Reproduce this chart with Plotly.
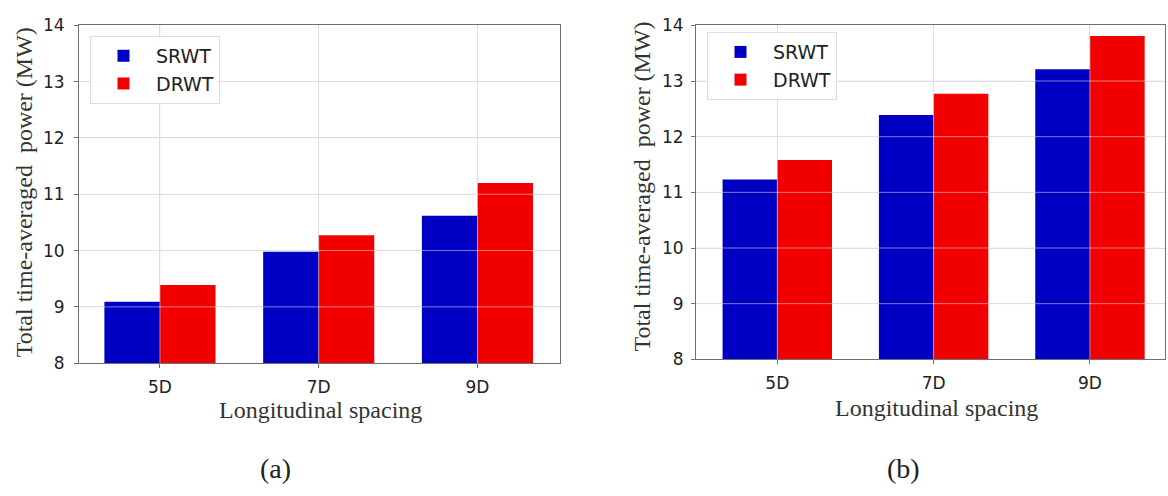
import plotly.graph_objects as go

categories = ["5D", "7D", "9D"]
a_srwt = [9.09, 9.98, 10.62]
a_drwt = [9.39, 10.27, 11.20]
b_srwt = [11.23, 12.39, 13.21]
b_drwt = [11.58, 12.77, 13.81]
y_ticks = [8, 9, 10, 11, 12, 13, 14]

BLUE = "#0000c4"
RED = "#f20000"
W, H = 1168, 496

fig = go.Figure()
fig.add_trace(go.Bar(x=categories, y=a_srwt, name="SRWT", marker_color=BLUE,
                     marker_line_width=0, xaxis="x", yaxis="y", legend="legend"))
fig.add_trace(go.Bar(x=categories, y=a_drwt, name="DRWT", marker_color=RED,
                     marker_line_width=0, xaxis="x", yaxis="y", legend="legend"))
fig.add_trace(go.Bar(x=categories, y=b_srwt, name="SRWT", marker_color=BLUE,
                     marker_line_width=0, xaxis="x2", yaxis="y2", legend="legend2"))
fig.add_trace(go.Bar(x=categories, y=b_drwt, name="DRWT", marker_color=RED,
                     marker_line_width=0, xaxis="x2", yaxis="y2", legend="legend2"))

tick_font = dict(family="DejaVu Sans", size=17, color="#222")
axis_common = dict(showline=True, linecolor="#6e6e6e", linewidth=1, mirror=True,
                   ticks="outside", ticklen=4, tickcolor="#6e6e6e",
                   showgrid=True, gridcolor="#dcdcdc", gridwidth=1,
                   tickfont=tick_font, zeroline=False)

def px_x(p):
    return p / W

def px_y(p):
    return 1 - p / H

legend_common = dict(xanchor="left", yanchor="top",
                     bgcolor="rgba(255,255,255,0.9)", bordercolor="#dddddd", borderwidth=1,
                     font=dict(family="DejaVu Sans", size=19, color="#222"),
                     itemwidth=55, tracegroupgap=0)

fig.update_layout(
    width=W, height=H, autosize=False,
    margin=dict(l=0, r=0, t=0, b=0),
    paper_bgcolor="white", plot_bgcolor="white",
    barmode="group", bargap=0.3, bargroupgap=0,
    xaxis=dict(domain=[px_x(79), px_x(560)], anchor="y", type="category",
               range=[-0.51, 2.52], ticklabelstandoff=4, **axis_common),
    yaxis=dict(domain=[px_y(368), px_y(16)], anchor="x", range=[8, 14],
               tickvals=y_ticks, ticklabelstandoff=6, **axis_common),
    xaxis2=dict(domain=[px_x(696), px_x(1165)], anchor="y2", type="category",
                range=[-0.52, 2.48], ticklabelstandoff=4, **axis_common),
    yaxis2=dict(domain=[px_y(364), px_y(16)], anchor="x2", range=[8, 14],
                tickvals=y_ticks, ticklabelstandoff=4, **axis_common),
    legend=dict(x=px_x(90), y=px_y(27), **legend_common),
    legend2=dict(x=px_x(707), y=px_y(23), **legend_common),
    showlegend=True,
)

# gridlines drawn over bars (as in the reference), derived from tick values
for xa, ya in (("x", "y"), ("x2", "y2")):
    for t in y_ticks[1:-1]:
        fig.add_shape(type="line", xref=f"{xa} domain", yref=ya, x0=0, x1=1, y0=t, y1=t,
                      line=dict(color="rgba(225,225,225,0.55)", width=1), layer="above")
    for c in categories:
        fig.add_shape(type="line", xref=xa, yref=f"{ya} domain", x0=c, x1=c, y0=0, y1=1,
                      line=dict(color="rgba(225,225,225,0.55)", width=1), layer="above")

serif = "Liberation Serif"
title_font = dict(family=serif, size=24, color="#333")
ann = [
    dict(text="Total time-averaged\u00a0 power (MW)", x=px_x(24), y=px_y(190), textangle=-90),
    dict(text="Total time-averaged\u00a0 power (MW)", x=px_x(642), y=px_y(184), textangle=-90),
    dict(text="Longitudinal spacing", x=px_x(320), y=px_y(417)),
    dict(text="Longitudinal spacing", x=px_x(936), y=px_y(415)),
]
for a in ann:
    fig.add_annotation(xref="paper", yref="paper", showarrow=False,
                       xanchor="center", yanchor="middle", font=title_font, **a)
for txt, cx in (("(a)", 275), ("(b)", 903)):
    fig.add_annotation(text=txt, xref="paper", yref="paper", x=px_x(cx), y=px_y(478),
                       showarrow=False, xanchor="center", yanchor="middle",
                       font=dict(family=serif, size=28, color="#222"))

fig.write_html("out.html")
